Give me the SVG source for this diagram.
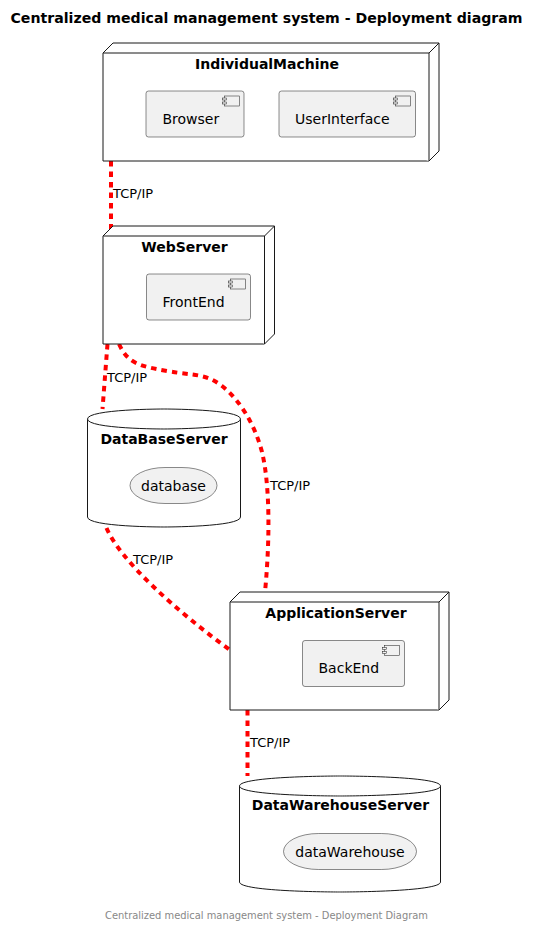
<svg xmlns="http://www.w3.org/2000/svg" width="541" height="927" viewBox="0 0 541 927">
<style>
text{font-family:"DejaVu Sans","Liberation Sans",sans-serif;fill:#000}
.title{font-size:14px;font-weight:bold}
.nlabel{font-size:14px;font-weight:bold;text-anchor:middle}
.clabel{font-size:14px}
.slabel{font-size:14px;text-anchor:middle}
.elabel{font-size:13px}
.footer{font-size:10px;fill:#888888}
.node{fill:#FFFFFF;stroke:#181818;stroke-width:1}
.comp{fill:#F1F1F1;stroke:#181818;stroke-width:0.5}
.stor{fill:#F1F1F1;stroke:#181818;stroke-width:0.5}
.link{fill:none;stroke:#FF0000;stroke-width:4;stroke-dasharray:5.5,5}
</style>
<rect width="541" height="927" fill="#FFFFFF"/>
<text class="title" x="10.5" y="22.5" textLength="512" lengthAdjust="spacingAndGlyphs">Centralized medical management system - Deployment diagram</text>

<g id="connectors">
<path class="link" d="M111,161 L111,236"/>
<text class="elabel" x="113" y="197.5">TCP/IP</text>
<path class="link" d="M107.5,344 L102.5,409"/>
<text class="elabel" x="107" y="381.5">TCP/IP</text>
<path class="link" d="M119,344 C128,364 140,366 167,371 C195,376 205,373 222,386 C240,400 255,425 262,452 C270,485 270,540 265,592"/>
<text class="elabel" x="270" y="490">TCP/IP</text>
<path class="link" d="M106.5,528 C120,560 175,610 230,650"/>
<text class="elabel" x="133" y="564">TCP/IP</text>
<path class="link" d="M247.5,710 L247.5,776"/>
<text class="elabel" x="250" y="747">TCP/IP</text>
</g>

<g id="IndividualMachine">
<path class="node" d="M103,53 L113,43 L439,43 L439,151 L429,161 L103,161 Z"/>
<path class="node" fill="none" d="M429,53 L439,43 M103,53 L429,53 L429,161"/>
<text class="nlabel" x="267" y="68.5">IndividualMachine</text>
</g>
<g id="Browser">
<rect class="comp" x="146" y="91" width="98" height="46" rx="2.5"/>
<rect class="comp" x="224.5" y="96" width="15" height="10"/>
<rect class="comp" x="222.5" y="98" width="4" height="2"/>
<rect class="comp" x="222.5" y="102" width="4" height="2"/>
<text class="clabel" x="162.5" y="124">Browser</text>
</g>
<g id="UserInterface">
<rect class="comp" x="279" y="91" width="136.5" height="46" rx="2.5"/>
<rect class="comp" x="395.5" y="96" width="15" height="10"/>
<rect class="comp" x="393.5" y="98" width="4" height="2"/>
<rect class="comp" x="393.5" y="102" width="4" height="2"/>
<text class="clabel" x="295" y="124">UserInterface</text>
</g>

<g id="WebServer">
<path class="node" d="M103,236 L113,226 L274.5,226 L274.5,334 L264.5,344 L103,344 Z"/>
<path class="node" fill="none" d="M264.5,236 L274.5,226 M103,236 L264.5,236 L264.5,344"/>
<text class="nlabel" x="184.5" y="252">WebServer</text>
</g>
<g id="FrontEnd">
<rect class="comp" x="146.5" y="274" width="104" height="46" rx="2.5"/>
<rect class="comp" x="230.5" y="279" width="15" height="10"/>
<rect class="comp" x="228.5" y="281" width="4" height="2"/>
<rect class="comp" x="228.5" y="285" width="4" height="2"/>
<text class="clabel" x="162.5" y="307">FrontEnd</text>
</g>

<g id="DataBaseServer">
<path class="node" d="M87.5,419 C87.5,409 164,409 164,409 C164,409 240.5,409 240.5,419 L240.5,517 C240.5,527 164,527 164,527 C164,527 87.5,527 87.5,517 Z"/>
<path class="node" fill="none" d="M87.5,419 C87.5,429 164,429 164,429 C164,429 240.5,429 240.5,419"/>
<text class="nlabel" x="164" y="443.5">DataBaseServer</text>
</g>
<g id="database">
<rect class="stor" x="130" y="467.5" width="87" height="36" rx="35" ry="18"/>
<text class="slabel" x="173.5" y="490.5">database</text>
</g>

<g id="ApplicationServer">
<path class="node" d="M230,602 L240,592 L449,592 L449,700 L439,710 L230,710 Z"/>
<path class="node" fill="none" d="M439,602 L449,592 M230,602 L439,602 L439,710"/>
<text class="nlabel" x="336" y="618">ApplicationServer</text>
</g>
<g id="BackEnd">
<rect class="comp" x="302.5" y="640.5" width="102" height="46" rx="2.5"/>
<rect class="comp" x="384.5" y="645.5" width="15" height="10"/>
<rect class="comp" x="382.5" y="647.5" width="4" height="2"/>
<rect class="comp" x="382.5" y="651.5" width="4" height="2"/>
<text class="clabel" x="318.5" y="673">BackEnd</text>
</g>

<g id="DataWarehouseServer">
<path class="node" d="M239.5,786 C239.5,776 340,776 340,776 C340,776 440.5,776 440.5,786 L440.5,882 C440.5,892 340,892 340,892 C340,892 239.5,892 239.5,882 Z"/>
<path class="node" fill="none" d="M239.5,786 C239.5,796 340,796 340,796 C340,796 440.5,796 440.5,786"/>
<text class="nlabel" x="340.5" y="809.5">DataWarehouseServer</text>
</g>
<g id="dataWarehouse">
<rect class="stor" x="283.5" y="833.5" width="133" height="36" rx="35" ry="18"/>
<text class="slabel" x="350" y="856.5">dataWarehouse</text>
</g>

<text class="footer" x="105" y="918.5" textLength="323" lengthAdjust="spacingAndGlyphs">Centralized medical management system - Deployment Diagram</text>
</svg>
